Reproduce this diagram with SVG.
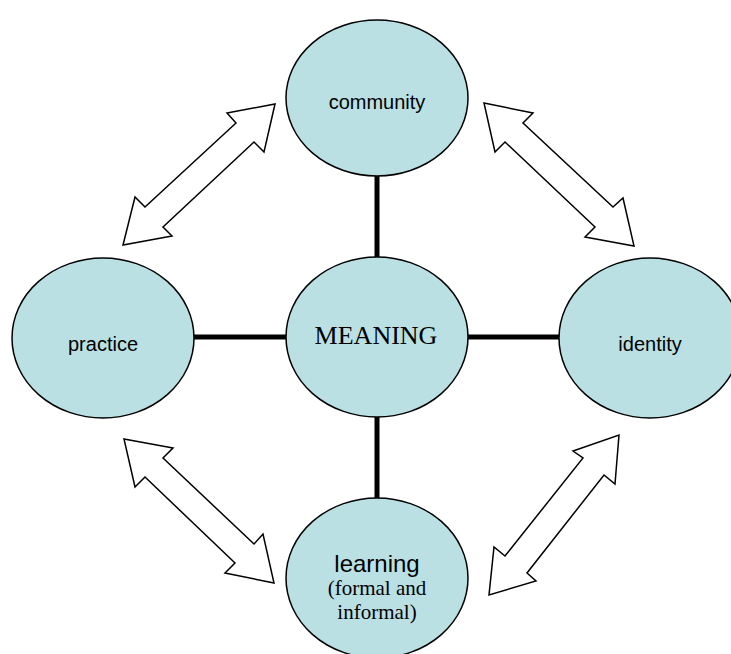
<svg xmlns="http://www.w3.org/2000/svg" width="731" height="654" viewBox="0 0 731 654">
<style>
.node{fill:#bae0e4;stroke:#000;stroke-width:1.5}
.conn{stroke:#000;stroke-width:5;fill:none}
.arrow{fill:#fff;stroke:#000;stroke-width:1.5;stroke-linejoin:miter}
.sans{font-family:"Liberation Sans",Arial,sans-serif;fill:#000;text-anchor:middle}
.serif{font-family:"Liberation Serif","Times New Roman",serif;fill:#000;text-anchor:middle}
</style>
<rect width="731" height="654" fill="#fff"/>
<g id="connectors">
<line class="conn" x1="377" y1="170" x2="377" y2="262"/>
<line class="conn" x1="377" y1="410" x2="377" y2="504"/>
<line class="conn" x1="188" y1="337" x2="292" y2="337"/>
<line class="conn" x1="462" y1="337" x2="566" y2="337"/>
<polygon class="arrow" points="275,104 264,152 254,142 163,227 172,236 123,245 135,197 145,207 236,123 227,113"/>
<polygon class="arrow" points="484,103 533,113 523,123 613,207 623,198 634,246 585,237 595,227 505,142 495,152"/>
<polygon class="arrow" points="124,439 173,448 163,458 254,544 263,534 274,583 225,573 235,563 145,477 135,487"/>
<polygon class="arrow" points="619,435 615,484 604,475 527,573 536,581 489,595 494,547 505,556 583,458 573,451"/>
</g>
<g id="community">
<ellipse class="node" cx="377" cy="98" rx="91" ry="78"/>
<text class="sans" x="377" y="109" font-size="20">community</text>
</g>
<g id="meaning">
<ellipse class="node" cx="377" cy="337" rx="91" ry="80"/>
<text class="serif" x="376" y="344" font-size="26">MEANING</text>
</g>
<g id="practice">
<ellipse class="node" cx="103" cy="338" rx="91" ry="80"/>
<text class="sans" x="103" y="351" font-size="20">practice</text>
</g>
<g id="identity">
<ellipse class="node" cx="650" cy="338" rx="91" ry="80"/>
<text class="sans" x="650" y="351" font-size="20">identity</text>
</g>
<g id="learning">
<ellipse class="node" cx="377" cy="578" rx="91" ry="80"/>
<text class="sans" x="377" y="572" font-size="24">learning</text>
<text class="serif" x="377" y="595" font-size="21">(formal and</text>
<text class="serif" x="377" y="619" font-size="21">informal)</text>
</g>
</svg>
